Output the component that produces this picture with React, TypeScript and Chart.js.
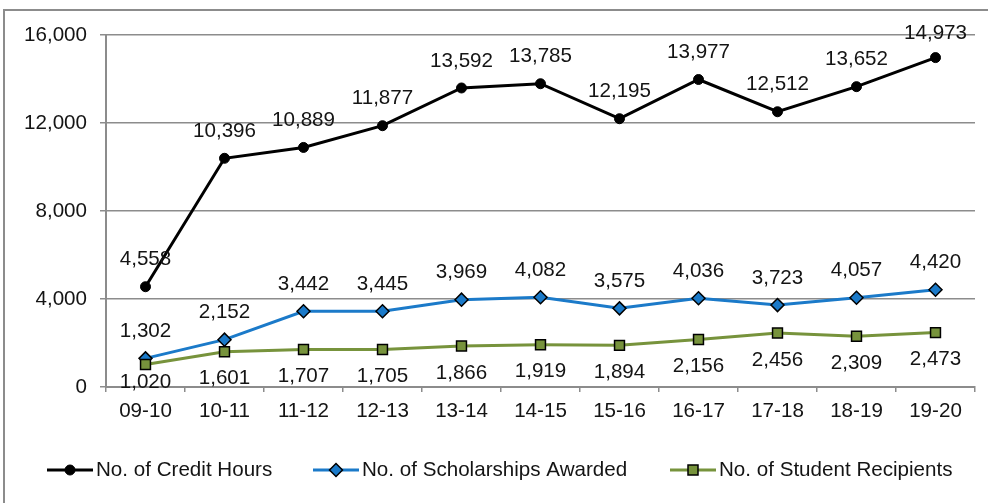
import React, { useEffect, useRef } from 'react';
import { Chart, registerables } from 'chart.js';

Chart.register(...registerables);

const categories = ['09-10', '10-11', '11-12', '12-13', '13-14', '14-15', '15-16', '16-17', '17-18', '18-19', '19-20'];
const creditHours = [4558, 10396, 10889, 11877, 13592, 13785, 12195, 13977, 12512, 13652, 14973];
const scholarships = [1302, 2152, 3442, 3445, 3969, 4082, 3575, 4036, 3723, 4057, 4420];
const recipients = [1020, 1601, 1707, 1705, 1866, 1919, 1894, 2156, 2456, 2309, 2473];
const seriesNames = ['No. of Credit Hours', 'No. of Scholarships Awarded', 'No. of Student Recipients'];
const yMin = 0;
const yMax = 16000;
const yStep = 4000;

const FONT = "'Liberation Sans', Arial, sans-serif";
const FS = 20.6;
const TEXT = '#141414';
const GRAY = '#8c8c8c';
const BLACK = '#000000';
const BLUE = '#1b7ac9';
const GREEN = '#77933c';

const fmt = (v: number) => v.toLocaleString('en-US');

const labelPos = ['above', 'above', 'below'];

const dataLabelPlugin = {
  id: 'dataLabels',
  afterDatasetsDraw(chart: any) {
    const ctx = chart.ctx;
    const area = chart.chartArea;
    ctx.save();
    ctx.font = `${FS}px ${FONT}`;
    ctx.fillStyle = TEXT;
    ctx.textAlign = 'center';
    ctx.textBaseline = 'middle';
    chart.data.datasets.forEach((ds: any, i: number) => {
      const meta = chart.getDatasetMeta(i);
      meta.data.forEach((pt: any, j: number) => {
        let y = labelPos[i] === 'below' ? pt.y + 27 : pt.y - 27;
        y = Math.min(y, area.bottom - 4.5);
        y = Math.max(y, area.top - 2);
        ctx.fillText(fmt(ds.data[j]), pt.x, y);
      });
    });
    ctx.restore();
  },
};

const frameLegendPlugin = {
  id: 'frameLegend',
  beforeDraw(chart: any) {
    const ctx = chart.ctx;
    ctx.save();
    ctx.fillStyle = '#ffffff';
    ctx.fillRect(0, 0, chart.width, chart.height);
    ctx.strokeStyle = GRAY;
    ctx.lineWidth = 2;
    ctx.beginPath();
    ctx.moveTo(4, chart.height + 5);
    ctx.lineTo(4, 10);
    ctx.lineTo(chart.width + 5, 10);
    ctx.stroke();
    ctx.restore();
  },
  afterDraw(chart: any) {
    const ctx = chart.ctx;
    const starts = [47, 313, 670];
    const y = 470;
    ctx.save();
    chart.data.datasets.forEach((ds: any, i: number) => {
      const x0 = starts[i];
      ctx.strokeStyle = ds.borderColor;
      ctx.lineWidth = 3;
      ctx.beginPath();
      ctx.moveTo(x0, y);
      ctx.lineTo(x0 + 46, y);
      ctx.stroke();
      const cx = x0 + 23;
      ctx.fillStyle = ds.pointBackgroundColor;
      ctx.strokeStyle = ds.pointBorderColor;
      ctx.lineWidth = ds.pointBorderWidth;
      ctx.beginPath();
      if (ds.pointStyle === 'circle') {
        ctx.arc(cx, y, 5, 0, Math.PI * 2);
      } else if (ds.pointStyle === 'rectRot') {
        const r = 6.5;
        ctx.moveTo(cx - r, y);
        ctx.lineTo(cx, y - r);
        ctx.lineTo(cx + r, y);
        ctx.lineTo(cx, y + r);
        ctx.closePath();
      } else {
        const s = 5;
        ctx.rect(cx - s, y - s, 2 * s, 2 * s);
      }
      ctx.fill();
      ctx.stroke();
      ctx.fillStyle = TEXT;
      ctx.font = `${FS}px ${FONT}`;
      ctx.textAlign = 'left';
      ctx.textBaseline = 'middle';
      ctx.fillText(seriesNames[i], x0 + 49, y);
    });
    ctx.restore();
  },
};

export default function App() {
  const ref = useRef<HTMLCanvasElement | null>(null);
  useEffect(() => {
    if (!ref.current) return;
    const chart = new Chart(ref.current, {
      type: 'line',
      data: {
        labels: categories,
        datasets: [
          {
            label: seriesNames[0],
            data: creditHours,
            borderColor: BLACK,
            borderWidth: 3,
            pointStyle: 'circle',
            pointRadius: 5,
            pointBackgroundColor: BLACK,
            pointBorderColor: BLACK,
            pointBorderWidth: 1,
            tension: 0,
            order: 2,
          },
          {
            label: seriesNames[1],
            data: scholarships,
            borderColor: BLUE,
            borderWidth: 3,
            pointStyle: 'rectRot',
            pointRadius: 6.5,
            pointBackgroundColor: BLUE,
            pointBorderColor: BLACK,
            pointBorderWidth: 1.5,
            tension: 0,
            order: 1,
          },
          {
            label: seriesNames[2],
            data: recipients,
            borderColor: GREEN,
            borderWidth: 3,
            pointStyle: 'rect',
            pointRadius: 7,
            pointBackgroundColor: GREEN,
            pointBorderColor: BLACK,
            pointBorderWidth: 1.5,
            tension: 0,
            order: 0,
          },
        ],
      } as any,
      options: {
        animation: false,
        responsive: false,
        layout: { padding: { left: 0, top: 35, right: 13, bottom: 76 } },
        plugins: { legend: { display: false }, tooltip: { enabled: false } },
        scales: {
          x: {
            type: 'category',
            offset: true,
            grid: {
              offset: true,
              drawOnChartArea: false,
              drawTicks: true,
              tickLength: 5,
              color: GRAY,
              lineWidth: 1.5,
            },
            border: { color: GRAY, width: 2 },
            ticks: {
              font: { size: FS, family: FONT },
              color: TEXT,
              padding: 7,
              maxRotation: 0,
              autoSkip: false,
            },
            afterFit: (s: any) => {
              s.height = 40;
            },
          },
          y: {
            min: yMin,
            max: yMax,
            ticks: {
              stepSize: yStep,
              callback: (v: any) => fmt(Number(v)),
              font: { size: FS, family: FONT },
              color: TEXT,
              padding: 13,
            },
            grid: { color: GRAY, lineWidth: 1.5, tickLength: 6, drawTicks: true },
            border: { color: GRAY, width: 2 },
            afterFit: (s: any) => {
              s.width = 106;
            },
          },
        },
      } as any,
      plugins: [frameLegendPlugin, dataLabelPlugin],
    });
    return () => chart.destroy();
  }, []);
  return (
    <div style={{ position: 'fixed', left: 0, top: 0, width: 988, height: 503 }}>
      <canvas ref={ref} width={988} height={503} />
    </div>
  );
}
